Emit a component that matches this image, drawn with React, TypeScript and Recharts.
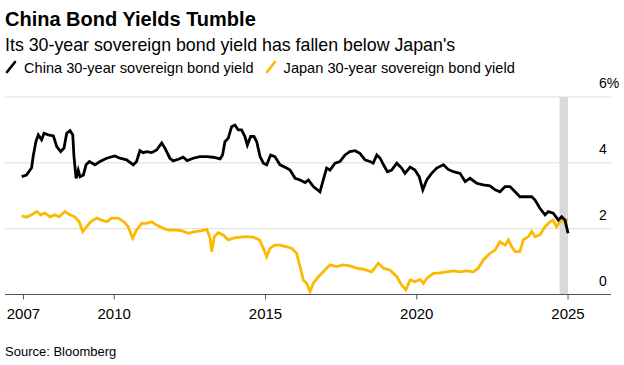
import { LineChart, Line, XAxis, YAxis, CartesianGrid, ReferenceArea } from "recharts";

// values (decimal year, yield in %)
const chinaDates = [
  2006.94, 2007.1, 2007.27, 2007.32, 2007.41, 2007.49, 2007.6, 2007.68, 2007.82, 2007.99,
  2008.1, 2008.23, 2008.34, 2008.43, 2008.54, 2008.63, 2008.67, 2008.74, 2008.81, 2008.87,
  2008.98, 2009.07, 2009.18, 2009.36, 2009.53, 2009.75, 2010.02, 2010.19, 2010.41, 2010.63,
  2010.74, 2010.85, 2010.96, 2011.07, 2011.24, 2011.4, 2011.57, 2011.68, 2011.84, 2011.95,
  2012.12, 2012.28, 2012.41, 2012.61, 2012.83, 2013.06, 2013.27, 2013.5, 2013.58, 2013.66,
  2013.77, 2013.88, 2013.99, 2014.1, 2014.21, 2014.32, 2014.4, 2014.51, 2014.62, 2014.71,
  2014.82, 2014.93, 2015.04, 2015.17, 2015.31, 2015.48, 2015.7, 2015.81, 2015.98, 2016.14,
  2016.31, 2016.42, 2016.58, 2016.8, 2016.91, 2017.02, 2017.13, 2017.3, 2017.46, 2017.63,
  2017.79, 2017.96, 2018.12, 2018.29, 2018.45, 2018.56, 2018.68, 2018.79, 2018.9, 2019.03,
  2019.17, 2019.34, 2019.5, 2019.61, 2019.78, 2019.94, 2020.08, 2020.2, 2020.33, 2020.49,
  2020.66, 2020.88, 2021.04, 2021.21, 2021.43, 2021.6, 2021.76, 2021.98, 2022.2, 2022.42,
  2022.59, 2022.75, 2022.92, 2023.08, 2023.25, 2023.41, 2023.63, 2023.8, 2023.91, 2024.07,
  2024.24, 2024.35, 2024.51, 2024.68, 2024.79, 2024.9, 2025.0,
];
const chinaYields = [
  3.58, 3.63, 3.85, 4.19, 4.64, 4.85, 4.7, 4.9, 4.85, 4.82,
  4.49, 4.34, 4.45, 4.9, 4.98, 4.85, 4.19, 3.53, 3.78, 3.58,
  3.63, 3.94, 4.04, 3.94, 4.04, 4.14, 4.21, 4.14, 4.09, 3.94,
  4.04, 4.37, 4.31, 4.34, 4.31, 4.39, 4.6, 4.44, 4.14, 4.06,
  4.11, 4.17, 4.07, 4.14, 4.19, 4.19, 4.17, 4.12, 4.24, 4.64,
  4.75, 5.1, 5.15, 5.0, 5.0, 4.8, 4.54, 4.8, 4.8, 4.64,
  4.19, 3.99, 3.94, 4.24, 4.19, 3.94, 3.84, 3.78, 3.53, 3.48,
  3.4, 3.48, 3.28, 3.12, 3.48, 3.84, 3.78, 3.99, 4.04, 4.24,
  4.34, 4.37, 4.29, 4.09, 4.04, 3.99, 4.24, 4.14, 3.94, 3.73,
  3.78, 3.99, 3.84, 3.68, 3.87, 3.78, 3.58, 3.18, 3.48, 3.68,
  3.84, 3.94, 3.8, 3.73, 3.68, 3.43, 3.53, 3.38, 3.33, 3.3,
  3.18, 3.12, 3.28, 3.28, 3.12, 2.97, 2.97, 2.97, 2.87, 2.62,
  2.42, 2.52, 2.47, 2.26, 2.36, 2.26, 1.86,
];

const japanDates = [
  2006.94, 2007.1, 2007.27, 2007.44, 2007.57, 2007.71, 2007.88, 2008.04, 2008.18, 2008.37,
  2008.54, 2008.7, 2008.84, 2008.96, 2009.09, 2009.22, 2009.42, 2009.59, 2009.75, 2009.92,
  2010.13, 2010.32, 2010.46, 2010.61, 2010.74, 2010.91, 2011.07, 2011.24, 2011.4, 2011.62,
  2011.79, 2012.01, 2012.23, 2012.45, 2012.67, 2012.89, 2013.06, 2013.17, 2013.22, 2013.31,
  2013.44, 2013.6, 2013.77, 2013.94, 2014.16, 2014.38, 2014.6, 2014.8, 2014.93, 2015.04,
  2015.15, 2015.31, 2015.48, 2015.7, 2015.87, 2016.03, 2016.14, 2016.25, 2016.36, 2016.47,
  2016.58, 2016.75, 2016.91, 2017.13, 2017.35, 2017.57, 2017.79, 2018.01, 2018.23, 2018.51,
  2018.73, 2018.9, 2019.12, 2019.34, 2019.5, 2019.64, 2019.78, 2019.94, 2020.11, 2020.22,
  2020.33, 2020.55, 2020.77, 2020.99, 2021.21, 2021.43, 2021.65, 2021.87, 2022.03, 2022.2,
  2022.42, 2022.59, 2022.75, 2022.92, 2023.03, 2023.14, 2023.25, 2023.41, 2023.52, 2023.69,
  2023.8, 2023.91, 2024.07, 2024.24, 2024.41, 2024.51, 2024.62, 2024.73, 2024.9, 2025.0,
];
const japanYields = [
  2.39, 2.35, 2.42, 2.52, 2.42, 2.47, 2.36, 2.42, 2.36, 2.52,
  2.42, 2.36, 2.21, 1.91, 2.06, 2.21, 2.32, 2.26, 2.21, 2.32,
  2.32, 2.21, 2.06, 1.71, 1.96, 2.16, 2.16, 2.21, 2.11, 2.01,
  1.96, 1.96, 1.94, 1.86, 1.91, 1.94, 1.98, 1.71, 1.3, 1.76,
  1.88, 1.81, 1.66, 1.71, 1.74, 1.76, 1.74, 1.66, 1.4, 1.15,
  1.4, 1.5, 1.5, 1.45, 1.4, 1.25, 0.85, 0.44, 0.34, 0.09,
  0.34, 0.54, 0.69, 0.9, 0.85, 0.9, 0.87, 0.8, 0.77, 0.69,
  0.95, 0.8, 0.74, 0.54, 0.29, 0.14, 0.44, 0.39, 0.46, 0.34,
  0.49, 0.64, 0.66, 0.69, 0.72, 0.69, 0.72, 0.69, 0.8, 1.05,
  1.25, 1.35, 1.6, 1.5, 1.66, 1.45, 1.3, 1.3, 1.66, 1.76,
  1.91, 1.76, 1.81, 2.06, 2.21, 2.26, 2.06, 2.21, 2.26, 2.27,
];

const yearTicks = [2007, 2010, 2015, 2020, 2025];
const yieldTicks = [0, 2, 4, 6];
const shadeStart = 2024.72;
const shadeEnd = 2025.0;

const chinaData = chinaDates.map((d, i) => ({ date: d, value: chinaYields[i] }));
const japanData = japanDates.map((d, i) => ({ date: d, value: japanYields[i] }));

const FONT = '"Liberation Sans", Arial, sans-serif';
const CHINA = "#000000";
const JAPAN = "#fbb900";

function YTick({ y, payload }: any) {
  return (
    <text x={599} y={y - 9} fontSize={14} fill="#000" fontFamily={FONT}>
      {payload.value === 6 ? "6%" : payload.value}
    </text>
  );
}

function XTick({ x, y, payload }: any) {
  return (
    <text x={x} y={y + 17} fontSize={15} fill="#000" textAnchor="middle" fontFamily={FONT}>
      {payload.value}
    </text>
  );
}

function Slash({ color }: { color: string }) {
  return (
    <svg width={12} height={14} style={{ display: "inline-block", verticalAlign: "-1px", marginRight: 7 }}>
      <line x1={2} y1={12} x2={10} y2={2} stroke={color} strokeWidth={2.6} strokeLinecap="round" />
    </svg>
  );
}

export default function App() {
  return (
    <div style={{ position: "absolute", left: 0, top: 0, width: 624, height: 365, background: "#fff", fontFamily: FONT }}>
      <div style={{ position: "absolute", left: 5, top: 9, fontSize: 20, lineHeight: "20px", fontWeight: 700 }}>
        China Bond Yields Tumble
      </div>
      <div style={{ position: "absolute", left: 5, top: 36, fontSize: 17.8, lineHeight: "18px" }}>
        Its 30-year sovereign bond yield has fallen below Japan's
      </div>
      <div style={{ position: "absolute", left: 5, top: 60, fontSize: 14.6, lineHeight: "15px", whiteSpace: "nowrap" }}>
        <Slash color={CHINA} />
        <span>China 30-year sovereign bond yield</span>
        <span style={{ display: "inline-block", width: 11 }} />
        <Slash color={JAPAN} />
        <span>Japan 30-year sovereign bond yield</span>
      </div>
      <div style={{ position: "absolute", left: 0, top: 0 }}>
        <LineChart width={624} height={365} margin={{ top: 97, right: 12, bottom: 40.5, left: 5 }}>
          <CartesianGrid vertical={false} stroke="#dddddd" />
          <ReferenceArea x1={shadeStart} x2={shadeEnd} y1={0} y2={6} fill="#d9d9d9" fillOpacity={1} stroke="none" />
          <XAxis
            dataKey="date"
            type="number"
            domain={[2006.39, 2026.42]}
            ticks={yearTicks}
            height={30}
            stroke="#555"
            tickSize={5}
            tick={<XTick />}
            allowDataOverflow
          />
          <YAxis
            orientation="right"
            width={1}
            domain={[0, 6]}
            ticks={yieldTicks}
            axisLine={false}
            tickLine={false}
            tick={<YTick />}
            interval={0}
            allowDataOverflow
          />
          <Line data={japanData} dataKey="value" type="linear" stroke={JAPAN} strokeWidth={2.8} dot={false} isAnimationActive={false} />
          <Line data={chinaData} dataKey="value" type="linear" stroke={CHINA} strokeWidth={2.8} dot={false} isAnimationActive={false} />
        </LineChart>
      </div>
      <div style={{ position: "absolute", left: 5, top: 345, fontSize: 13, lineHeight: "13px" }}>
        Source: Bloomberg
      </div>
    </div>
  );
}
